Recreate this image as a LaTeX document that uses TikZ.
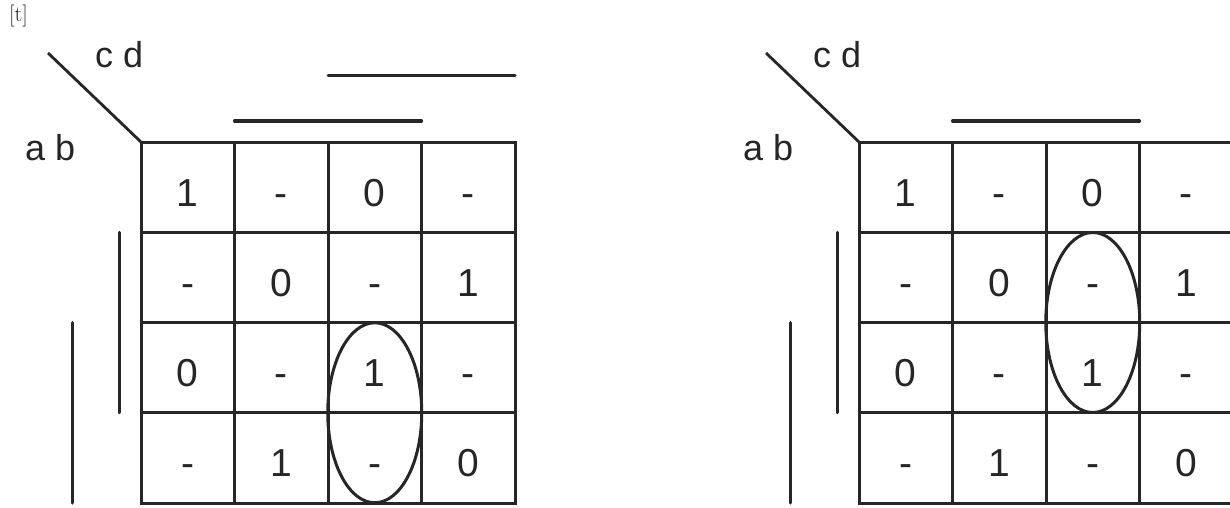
\documentclass[tikz,border=0pt]{standalone}
\usepackage{fontspec}
\newfontfamily\labfont{Liberation Sans}
\definecolor{ink}{HTML}{262626}
\tikzset{
  cellbox/.style={draw=ink, line width=3pt, minimum width=93.5pt, minimum height=90.25pt, outer sep=0pt, inner sep=0pt},
  val/.style={text=ink, font=\labfont\fontsize{39}{39}\selectfont, text height=28pt, text depth=0pt, inner sep=0pt},
  lab/.style={text=ink, font=\labfont\fontsize{36}{36}\selectfont, inner sep=0pt},
  bar/.style={draw=ink, line width=3pt, line cap=round},
  loopell/.style={draw=ink, ellipse, line width=3pt, minimum width=94pt, minimum height=180pt, inner sep=0pt},
}
\usetikzlibrary{shapes.geometric}
\newcommand\kmapcells[2]{% #1 prefix, #2 x offset
  \foreach \row [count=\r] in {{1,-,0,-},{-,0,-,1},{0,-,1,-},{-,1,-,0}}{
    \foreach \v [count=\c] in \row {
      \node[cellbox] (#1\r\c) at ({#2+141+(\c-0.5)*93.5},{142+(\r-0.5)*90.25}) {};
      \node[val] (#1v\r\c) at ([yshift=-5pt]#1\r\c.center) {\v};
    }
  }
}
\begin{document}
\begin{tikzpicture}[x=1pt,y=-1pt]
\useasboundingbox (0,0) rectangle (1230,508);
\clip (0,0) rectangle (1230,508);
\fill[white] (0,0) rectangle (1230,508);
\node[anchor=base west, inner sep=0pt, font=\fontsize{22}{22}\selectfont, text=ink] (tag) at (9,22) {[t]};
% ---------- left map ----------
\kmapcells{L}{0}
\coordinate (Ldiag) at (48,53);
\draw[ink, line width=2.8pt] (Ldiag) -- (L11.north west);
\node[lab, anchor=base west] (Lcd) at (95,68) {c d};
\node[lab, anchor=base west] (Lab) at (25,160) {a b};
\draw[bar] ([yshift=66pt]L13.north west) -- ([yshift=66pt]L14.north east);
\draw[bar] ([yshift=21pt]L12.north west) -- ([yshift=21pt]L13.north east);
\draw[bar] ([xshift=-22pt]L21.north west) -- ([xshift=-22pt]L31.south west);
\draw[bar] ([xshift=-69pt]L31.north west) -- ([xshift=-69pt]L41.south west);
\node[loopell] (Lloop) at (L33.south) {};
% ---------- right map ----------
\kmapcells{R}{718}
\coordinate (Rdiag) at (766,53);
\draw[ink, line width=2.8pt] (Rdiag) -- (R11.north west);
\node[lab, anchor=base west] (Rcd) at (813,68) {c d};
\node[lab, anchor=base west] (Rab) at (743,160) {a b};
\draw[bar] ([yshift=21pt]R12.north west) -- ([yshift=21pt]R13.north east);
\draw[bar] ([xshift=-22pt]R21.north west) -- ([xshift=-22pt]R31.south west);
\draw[bar] ([xshift=-69pt]R31.north west) -- ([xshift=-69pt]R41.south west);
\node[loopell] (Rloop) at (R23.south) {};
\end{tikzpicture}
\end{document}
